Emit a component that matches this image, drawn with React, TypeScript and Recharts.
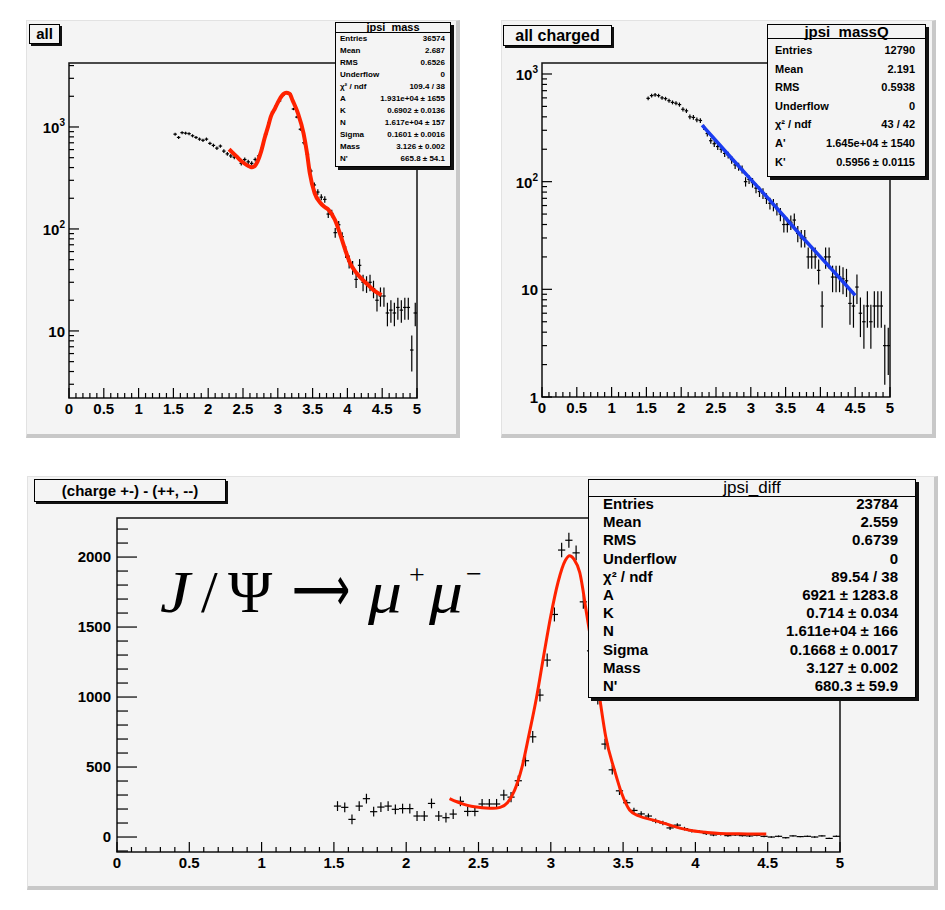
import React from 'react';
import {
  ComposedChart,
  Scatter,
  Line,
  XAxis,
  YAxis,
  ErrorBar,
  ReferenceArea,
} from 'recharts';

// histogram bin centres (bin width 0.05 GeV), shared by the three panels
const binCenters = [
  1.525, 1.575, 1.625, 1.675, 1.725, 1.775, 1.825, 1.875, 1.925, 1.975,
  2.025, 2.075, 2.125, 2.175, 2.225, 2.275, 2.325, 2.375, 2.425, 2.475,
  2.525, 2.575, 2.625, 2.675, 2.725, 2.775, 2.825, 2.875, 2.925, 2.975,
  3.025, 3.075, 3.125, 3.175, 3.225, 3.275, 3.325, 3.375, 3.425, 3.475,
  3.525, 3.575, 3.625, 3.675, 3.725, 3.775, 3.825, 3.875, 3.925, 3.975,
  4.025, 4.075, 4.125, 4.175, 4.225, 4.275, 4.325, 4.375, 4.425, 4.475,
  4.525, 4.575, 4.625, 4.675, 4.725, 4.775, 4.825, 4.875, 4.925, 4.975,
];
const binHalfWidth = 0.025;

// "all"
const allCounts = [
  850, 790, 880, 870, 860, 820, 790, 760, 740, 760,
  690, 660, 620, 650, 580, 545, 520, 505, 500, 440,
  480, 455, 440, 480, 520, 620, 850, 1100, 1400, 1600,
  1800, 2050, 2150, 2100, 1500, 1250, 950, 700, 540, 370,
  270, 230, 205, 195, 140, 142, 92, 110, 84, 60,
  48, 42, 32, 44, 30, 29, 30, 26, 20, 22,
  22, 15, 16, 15, 17, 16, 17, 17, 6.5, 15,
];
const allErrors = [
  29, 28, 30, 29, 29, 29, 28, 28, 27, 28,
  26, 26, 25, 25, 24, 23, 23, 22, 22, 21,
  22, 21, 21, 22, 23, 25, 29, 33, 37, 40,
  42, 45, 46, 46, 39, 35, 31, 26, 23, 19,
  16, 15, 14, 14, 12, 12, 10, 10, 9, 8,
  7, 6.5, 5.7, 6.6, 5.5, 5.4, 5.5, 5.1, 4.5, 4.7,
  4.7, 3.9, 4, 3.9, 4.1, 4, 4.1, 4.1, 2.5, 3.9,
];
const allFit = [
  [2.3, 605], [2.35, 560], [2.4, 520], [2.45, 480], [2.5, 450], [2.55, 425],
  [2.6, 408], [2.63, 403], [2.67, 415], [2.71, 460], [2.76, 573], [2.81, 774],
  [2.86, 1007], [2.9, 1262], [2.96, 1525], [3.02, 1840], [3.08, 2100], [3.12, 2160],
  [3.17, 2120], [3.21, 1840], [3.29, 1360], [3.37, 867], [3.42, 552], [3.46, 352],
  [3.53, 224], [3.61, 181], [3.67, 165], [3.73, 154], [3.82, 123], [3.9, 87],
  [3.97, 62], [4.04, 46], [4.13, 37], [4.28, 29], [4.38, 25], [4.49, 22.5],
];

// "all charged"
const chargedCounts = [
  594, 630, 640, 630, 600, 590, 565, 545, 535, 520,
  470, 455, 400, 395, 375, 370, 320, 280, 240, 225,
  212, 200, 183, 177, 160, 143, 138, 130, 100, 105,
  98, 87, 81, 78, 70, 63, 61, 56, 50, 40,
  40, 42, 44, 33, 30, 30, 20, 20, 20, 15,
  7, 20, 20, 13, 13, 13, 12.5, 12, 7.4, 7,
  10.5, 6, 5, 7, 5, 7, 7, 7, 3, 3,
];
const chargedErrors = [
  24, 25, 25, 25, 24, 24, 24, 23, 23, 23,
  22, 21, 20, 20, 19, 19, 18, 17, 15, 15,
  15, 14, 14, 13, 13, 12, 12, 11, 10, 10,
  10, 9, 9, 9, 8, 8, 8, 7.5, 7, 6.3,
  6.3, 6.5, 6.6, 5.7, 5.5, 5.5, 4.5, 4.5, 4.5, 3.9,
  2.6, 4.5, 4.5, 3.6, 3.6, 3.6, 3.5, 3.5, 2.7, 2.6,
  3.2, 2.4, 2.2, 2.6, 2.2, 2.6, 2.6, 2.6, 1.7, 1.4,
];
const chargedFit = [
  [2.3, 335], [2.5, 240], [2.75, 158], [3.0, 105], [3.25, 70],
  [3.5, 46], [3.75, 30], [4.0, 20], [4.25, 13.3], [4.5, 8.8],
];

// "(charge +-) - (++, --)"
const diffCounts = [
  221, 212, 126, 221, 274, 181, 214, 221, 198, 203,
  203, 150, 150, 240, 150, 138, 164, 255, 183, 183,
  236, 236, 236, 300, 285, 402, 545, 716, 1014, 1264,
  1590, 2050, 2120, 2030, 1680, 1330, 990, 664, 480, 330,
  245, 190, 165, 150, 115, 100, 65, 85, 60, 45,
  40, 25, 15, 20, 10, 15, 10, 8, 12, 5,
  0, 5, -5, 8, 3, 5, 0, 8, -10, 5,
];
const diffErrors = [
  35, 35, 35, 35, 35, 35, 35, 35, 35, 35,
  35, 35, 35, 35, 35, 35, 35, 35, 35, 35,
  36, 36, 36, 37, 37, 38, 40, 42, 45, 47,
  50, 52, 53, 52, 50, 47, 43, 38, 34, 30,
  22, 20, 19, 18, 17, 16, 15, 14, 13, 12,
  11, 10, 9, 9, 8, 8, 7, 7, 7, 6,
  6, 6, 5, 5, 5, 5, 5, 5, 5, 5,
];
const diffFit = [
  [2.3, 275], [2.35, 252], [2.4, 233], [2.45, 220], [2.5, 212], [2.55, 207],
  [2.6, 205], [2.65, 212], [2.7, 245], [2.75, 335], [2.8, 495], [2.85, 735],
  [2.9, 990], [2.95, 1290], [3.0, 1580], [3.05, 1820], [3.1, 1975], [3.13, 2010],
  [3.16, 1985], [3.2, 1890], [3.25, 1580], [3.3, 1260], [3.34, 980], [3.38, 716],
  [3.44, 479], [3.49, 312], [3.545, 193], [3.61, 150], [3.71, 121], [3.82, 86],
  [3.9, 62], [3.98, 45], [4.08, 33], [4.17, 26], [4.3, 23], [4.4, 22], [4.49, 21],
];

// axis ticks
const xMajorTicks = [0, 0.5, 1, 1.5, 2, 2.5, 3, 3.5, 4, 4.5, 5];
const xMajorLabels = ['0', '0.5', '1', '1.5', '2', '2.5', '3', '3.5', '4', '4.5', '5'];
const xMinorTicks = [
  0.1, 0.2, 0.3, 0.4, 0.6, 0.7, 0.8, 0.9, 1.1, 1.2, 1.3, 1.4, 1.6, 1.7, 1.8, 1.9,
  2.1, 2.2, 2.3, 2.4, 2.6, 2.7, 2.8, 2.9, 3.1, 3.2, 3.3, 3.4, 3.6, 3.7, 3.8, 3.9,
  4.1, 4.2, 4.3, 4.4, 4.6, 4.7, 4.8, 4.9,
];
const logMajorTicks = [1, 10, 100, 1000];
const logMajorBase = ['1', '10', '10', '10'];
const logMajorExp = ['', '', '2', '3'];
const logMinorTicks = [
  2, 3, 4, 5, 6, 7, 8, 9, 20, 30, 40, 50, 60, 70, 80, 90,
  200, 300, 400, 500, 600, 700, 800, 900, 2000, 3000, 4000,
];
const linMajorTicks = [0, 500, 1000, 1500, 2000];
const linMajorLabels = ['0', '500', '1000', '1500', '2000'];
const linMinorTicks = [
  -100, 100, 200, 300, 400, 600, 700, 800, 900, 1100, 1200, 1300, 1400,
  1600, 1700, 1800, 1900, 2100, 2200,
];

const allDomain = [2.2, 4240];
const chargedDomain = [1, 1265];
const diffDomain = [-107, 2279];

const font = '"Liberation Sans", Arial, Helvetica, sans-serif';
const padColor = '#f4f4f4';

const toPoints = (counts: number[], errors: number[]) =>
  binCenters.map((x, i) => ({ x, y: counts[i], ex: binHalfWidth, ey: errors[i] }));
const toCurve = (pts: number[][]) => pts.map(([x, y]) => ({ x, y }));

const allData = toPoints(allCounts, allErrors);
const chargedData = toPoints(chargedCounts, chargedErrors);
const diffData = toPoints(diffCounts, diffErrors);

const xTicks = [...xMajorTicks, ...xMinorTicks].sort((a, b) => a - b);
const ticksIn = (list: number[], d: number[]) => list.filter((t) => t >= d[0] && t <= d[1]);

function idx(list: number[], v: number) {
  return list.findIndex((t) => Math.abs(t - v) < 1e-9);
}

const makeXTick = (majorLen: number, minorLen: number) => (props: any) => {
  const { x, y, payload } = props;
  const i = idx(xMajorTicks, payload.value);
  return (
    <g>
      <line x1={x} x2={x} y1={y} y2={y - (i >= 0 ? majorLen : minorLen)} stroke="#000" strokeWidth={1.2} />
      {i >= 0 && (
        <text x={x} y={y + 16} textAnchor="middle" fontFamily={font} fontWeight="bold" fontSize={15} fill="#000">
          {xMajorLabels[i]}
        </text>
      )}
    </g>
  );
};

const makeLogTick = (majorLen: number, minorLen: number) => (props: any) => {
  const { x, y, payload } = props;
  const i = idx(logMajorTicks, payload.value);
  return (
    <g>
      <line x1={x} x2={x + (i >= 0 ? majorLen : minorLen)} y1={y} y2={y} stroke="#000" strokeWidth={1.2} />
      {i >= 0 && (
        <text x={x - 4} y={y + 6} textAnchor="end" fontFamily={font} fontWeight="bold" fontSize={15} fill="#000">
          {logMajorBase[i]}
          {logMajorExp[i] && (
            <tspan dy={-7} fontSize={10}>
              {logMajorExp[i]}
            </tspan>
          )}
        </text>
      )}
    </g>
  );
};

const makeLinTick = (majorLen: number, minorLen: number) => (props: any) => {
  const { x, y, payload } = props;
  const i = idx(linMajorTicks, payload.value);
  return (
    <g>
      <line x1={x} x2={x + (i >= 0 ? majorLen : minorLen)} y1={y} y2={y} stroke="#000" strokeWidth={1.2} />
      {i >= 0 && (
        <text x={x - 6} y={y + 5} textAnchor="end" fontFamily={font} fontWeight="bold" fontSize={15} fill="#000">
          {linMajorLabels[i]}
        </text>
      )}
    </g>
  );
};

function Panel(props: {
  left: number;
  top: number;
  width: number;
  height: number;
  margin: any;
  yWidth: number;
  log: boolean;
  domain: number[];
  data: any[];
  fit: any[];
  fitColor: string;
  fitWidth: number;
  fitType: any;
  yTick: any;
  yTicks: number[];
}) {
  const { domain } = props;
  return (
    <div style={{ position: 'absolute', left: props.left, top: props.top }}>
      <ComposedChart width={props.width} height={props.height} margin={props.margin}>
        <XAxis
          type="number"
          dataKey="x"
          domain={[0, 5]}
          allowDataOverflow
          ticks={xTicks}
          interval={0}
          tick={makeXTick(10, 5)}
          tickLine={false}
          axisLine={false}
          tickSize={0}
          tickMargin={0}
          height={30}
        />
        <YAxis
          type="number"
          dataKey="y"
          scale={props.log ? 'log' : 'linear'}
          domain={domain}
          allowDataOverflow
          ticks={props.yTicks}
          interval={0}
          tick={props.yTick}
          tickLine={false}
          axisLine={false}
          tickSize={0}
          tickMargin={0}
          width={props.yWidth}
        />
        <ReferenceArea
          x1={0}
          x2={5}
          y1={domain[0]}
          y2={domain[1]}
          fill="none"
          stroke="#111"
          strokeWidth={1.5}
          ifOverflow="visible"
        />
        <Scatter data={props.data} dataKey="y" isAnimationActive={false} shape={() => <g />}>
          <ErrorBar dataKey="ex" direction="x" width={0} stroke="#000" strokeWidth={1.2} isAnimationActive={false} />
          <ErrorBar dataKey="ey" direction="y" width={0} stroke="#000" strokeWidth={1.2} isAnimationActive={false} />
        </Scatter>
        <Line
          data={props.fit}
          dataKey="y"
          type={props.fitType}
          stroke={props.fitColor}
          strokeWidth={props.fitWidth}
          dot={false}
          activeDot={false}
          isAnimationActive={false}
        />
      </ComposedChart>
    </div>
  );
}

function Pad({ left, top, width, height }: any) {
  return (
    <div
      style={{
        position: 'absolute',
        left,
        top,
        width,
        height,
        boxSizing: 'border-box',
        background: padColor,
        borderTop: '1px solid #e2e2e2',
        borderLeft: '1px solid #e2e2e2',
        borderRight: '4px solid #c8c8c8',
        borderBottom: '4px solid #c8c8c8',
      }}
    />
  );
}

function TitleBox({ left, top, width, height, text, size }: any) {
  return (
    <div
      style={{
        position: 'absolute',
        left,
        top,
        width,
        height,
        boxSizing: 'border-box',
        border: '1px solid #000',
        boxShadow: '2px 2px 0 #111',
        background: padColor,
        fontFamily: font,
        fontWeight: 'bold',
        fontSize: size,
        lineHeight: height - 2 + 'px',
        textAlign: 'center',
        whiteSpace: 'nowrap',
      }}
    >
      {text}
    </div>
  );
}

function StatBox(p: any) {
  return (
    <div
      style={{
        position: 'absolute',
        left: p.left,
        top: p.top,
        width: p.width,
        height: p.height,
        boxSizing: 'border-box',
        border: '1px solid #000',
        boxShadow: '3px 3px 0 #111',
        background: padColor,
        fontFamily: font,
        color: '#000',
      }}
    >
      <div
        style={{
          height: p.titleH,
          borderBottom: '1px solid #000',
          textAlign: 'center',
          fontSize: p.titleSize,
          fontWeight: p.titleBold ? 'bold' : 'normal',
          lineHeight: p.titleH + 'px',
          whiteSpace: 'nowrap',
        }}
      >
        {p.title}
      </div>
      {p.rows.map(([k, v]: string[], i: number) => (
        <div
          key={k}
          style={{
            position: 'absolute',
            left: p.padL,
            right: p.padR,
            top: p.rowTop + i * p.rowH,
            height: p.rowH,
            lineHeight: p.rowH + 'px',
            display: 'flex',
            justifyContent: 'space-between',
            fontSize: p.size,
            fontWeight: 'bold',
            whiteSpace: 'nowrap',
          }}
        >
          <span>{k}</span>
          <span>{v}</span>
        </div>
      ))}
    </div>
  );
}

const allStats = [
  ['Entries', '36574'],
  ['Mean', '2.687'],
  ['RMS', '0.6526'],
  ['Underflow', '0'],
  ['χ² / ndf', '109.4 / 38'],
  ['A', '1.931e+04 ± 1655'],
  ['K', '0.6902 ± 0.0136'],
  ['N', '1.617e+04 ± 157'],
  ['Sigma', '0.1601 ± 0.0016'],
  ['Mass', '3.126 ± 0.002'],
  ["N'", '665.8 ± 54.1'],
];
const chargedStats = [
  ['Entries', '12790'],
  ['Mean', '2.191'],
  ['RMS', '0.5938'],
  ['Underflow', '0'],
  ['χ² / ndf', '43 / 42'],
  ["A'", '1.645e+04 ± 1540'],
  ["K'", '0.5956 ± 0.0115'],
];
const diffStats = [
  ['Entries', '23784'],
  ['Mean', '2.559'],
  ['RMS', '0.6739'],
  ['Underflow', '0'],
  ['χ² / ndf', '89.54 / 38'],
  ['A', '6921 ± 1283.8'],
  ['K', '0.714 ± 0.034'],
  ['N', '1.611e+04 ± 166'],
  ['Sigma', '0.1668 ± 0.0017'],
  ['Mass', '3.127 ± 0.002'],
  ["N'", '680.3 ± 59.9'],
];

export default function App() {
  const logTicksAll = ticksIn([...logMajorTicks, ...logMinorTicks], allDomain);
  const logTicksCharged = ticksIn([...logMajorTicks, ...logMinorTicks], chargedDomain);
  const linTicks = [...linMajorTicks, ...linMinorTicks].sort((a, b) => a - b);
  return (
    <div style={{ position: 'absolute', left: 0, top: 0, width: 945, height: 910, background: '#fff', overflow: 'hidden' }}>
      <Pad left={26} top={20} width={434} height={418} />
      <Pad left={501} top={20} width={435} height={418} />
      <Pad left={27} top={476} width={911} height={414} />

      <Panel
        left={0}
        top={0}
        width={470}
        height={440}
        margin={{ top: 63, right: 53, bottom: 12, left: 9 }}
        yWidth={60}
        log
        domain={allDomain}
        data={allData}
        fit={toCurve(allFit)}
        fitColor="#ff2200"
        fitWidth={4}
        fitType="monotone"
        yTick={makeLogTick(10, 5)}
        yTicks={logTicksAll}
      />
      <Panel
        left={480}
        top={0}
        width={470}
        height={440}
        margin={{ top: 63, right: 60, bottom: 13, left: 7 }}
        yWidth={55}
        log
        domain={chargedDomain}
        data={chargedData}
        fit={toCurve(chargedFit)}
        fitColor="#1a3cf0"
        fitWidth={3.5}
        fitType="linear"
        yTick={makeLogTick(10, 5)}
        yTicks={logTicksCharged}
      />
      <Panel
        left={0}
        top={460}
        width={945}
        height={440}
        margin={{ top: 58, right: 105, bottom: 18, left: 57 }}
        yWidth={60}
        log={false}
        domain={diffDomain}
        data={diffData}
        fit={toCurve(diffFit)}
        fitColor="#ff2200"
        fitWidth={3}
        fitType="monotone"
        yTick={makeLinTick(20, 11)}
        yTicks={linTicks}
      />

      <TitleBox left={29} top={24} width={31} height={20} text="all" size={15} />
      <TitleBox left={503} top={25} width={109} height={21} text="all charged" size={16} />
      <TitleBox left={34} top={479} width={192} height={23} text="(charge +-) - (++, --)" size={15} />

      <StatBox
        left={335} top={22} width={116} height={145}
        title="jpsi_mass" titleH={9} titleSize={11} titleBold
        rows={allStats} rowTop={10} rowH={12} size={8} padL={4} padR={5}
      />
      <StatBox
        left={767} top={24} width={159} height={153}
        title="jpsi_massQ" titleH={13} titleSize={15} titleBold
        rows={chargedStats} rowTop={16} rowH={18.6} size={11} padL={7} padR={10}
      />
      <StatBox
        left={588} top={479} width={328} height={219}
        title="jpsi_diff" titleH={16} titleSize={17} titleBold={false}
        rows={diffStats} rowTop={15} rowH={18.2} size={15} padL={14} padR={17}
      />

      <svg width={945} height={910} style={{ position: 'absolute', left: 0, top: 0, pointerEvents: 'none' }}>
        <g fontFamily='"Liberation Serif", "Times New Roman", serif' fill="#000">
          <text x={160} y={612} fontSize={60} fontStyle="italic" textLength={30} lengthAdjust="spacingAndGlyphs">J</text>
          <text x={201} y={612} fontSize={60}>/</text>
          <text x={228} y={612} fontSize={60}>Ψ</text>
          <text
            x={292}
            y={611}
            fontSize={64}
            fontFamily='"DejaVu Sans", sans-serif'
            textLength={58}
            lengthAdjust="spacingAndGlyphs"
          >
            ⟶
          </text>
          <text x={368} y={612} fontSize={60} fontStyle="italic" textLength={34} lengthAdjust="spacingAndGlyphs">μ</text>
          <text x={409} y={584} fontSize={28}>+</text>
          <text x={429} y={612} fontSize={60} fontStyle="italic" textLength={34} lengthAdjust="spacingAndGlyphs">μ</text>
          <text x={466} y={583} fontSize={28}>−</text>
        </g>
      </svg>
    </div>
  );
}
